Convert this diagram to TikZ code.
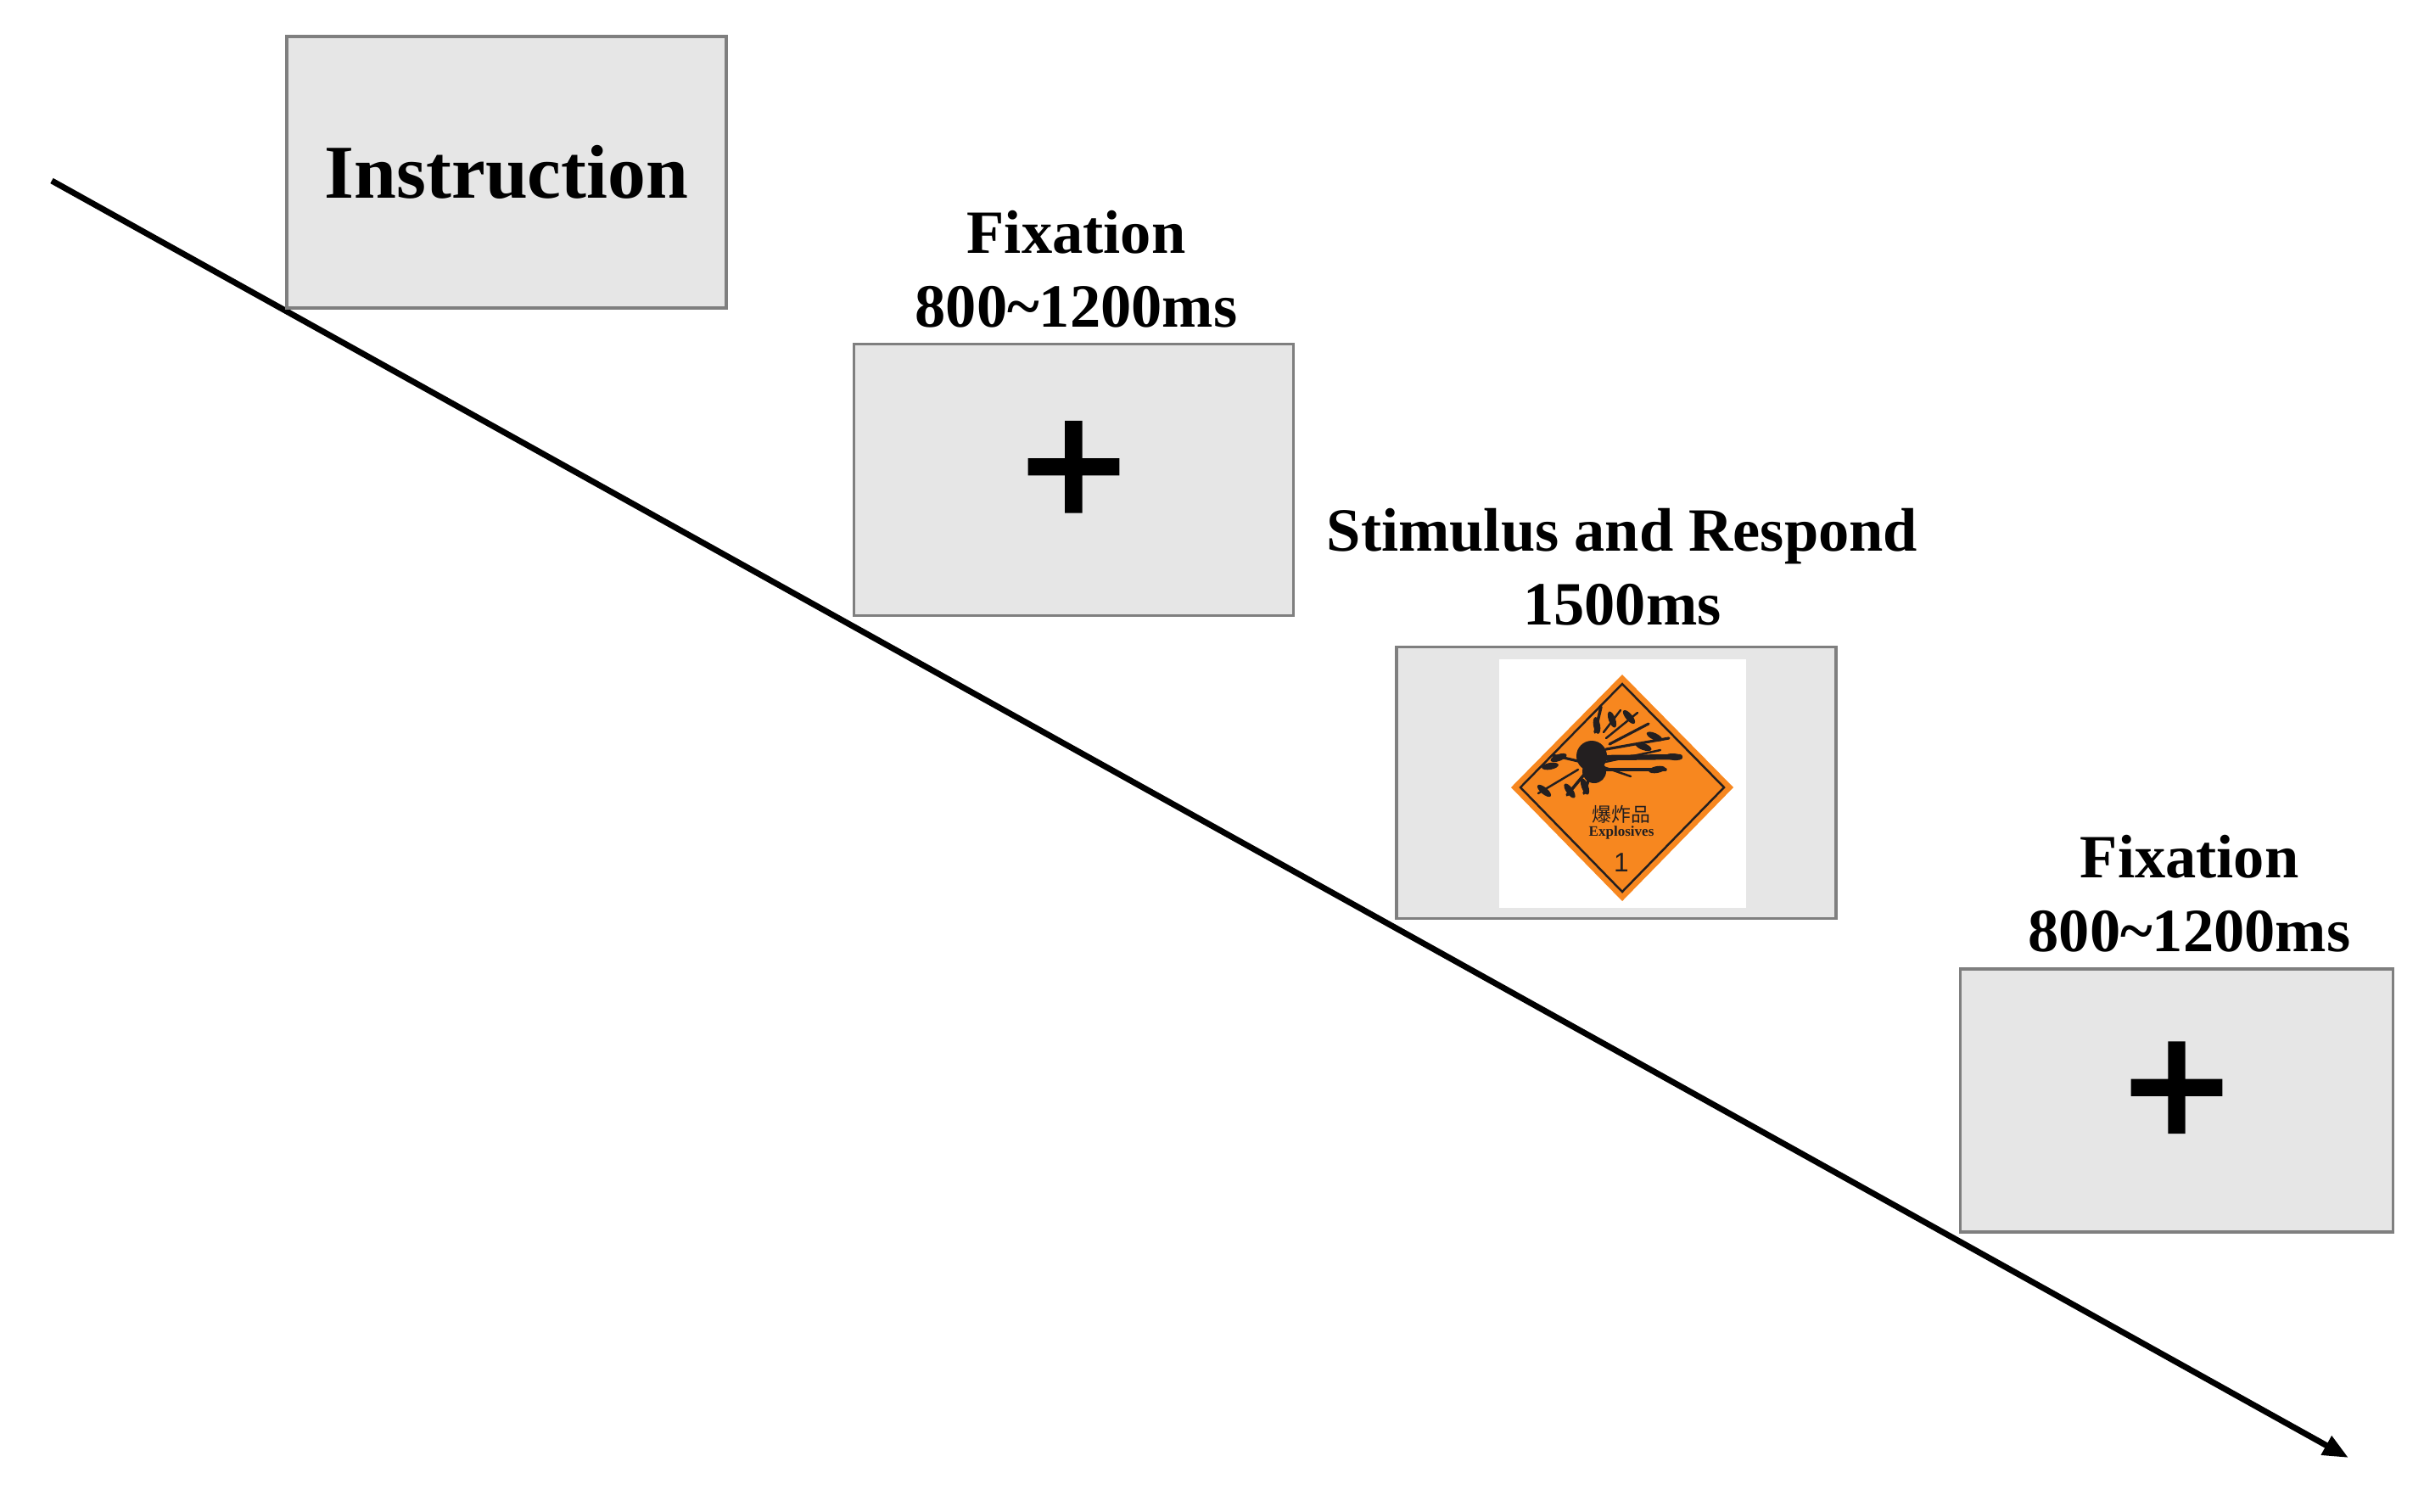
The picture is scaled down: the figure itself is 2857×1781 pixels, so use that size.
\documentclass[tikz,border=0pt]{standalone}
\usepackage{fontspec}
\setmainfont{Liberation Serif}
\newfontfamily\cjk{Noto Sans CJK SC}
\newfontfamily\plusfont[FakeBold=2.5]{Liberation Sans}
\newfontfamily\numfont{Liberation Sans}
\usetikzlibrary{positioning}
\usetikzlibrary{arrows.meta}
\definecolor{screengray}{HTML}{E6E6E6}
\definecolor{framegray}{HTML}{7F7F7F}
\definecolor{signorange}{HTML}{F7871F}
\definecolor{signink}{HTML}{231F20}

\begin{document}
\begin{tikzpicture}[x=0.01cm,y=-0.01cm,>={Triangle[length=0.3cm,width=0.24cm]},
  screen node/.style={rectangle,fill=screengray,draw=framegray,line width=1pt,minimum width=5.18cm,minimum height=3.2cm,inner sep=0pt},
  label node/.style={align=center,font=\fontsize{20.6}{24.8}\selectfont\bfseries,inner sep=0pt},
  cross/.style={font=\plusfont\fontsize{60}{60}\selectfont}]

	\useasboundingbox (0,0) rectangle (2857,1781);

	\coordinate (start) at (61,213);
	\coordinate (end) at (2768,1718);
	\draw[->,line width=2pt] (start) -- (end);

	\node[screen node,font=\fontsize{25.5}{30}\selectfont\bfseries] at (597,203) (instr) {Instruction};
	\node[screen node,cross] at (1265.5,565.5) (fix1) {\raisebox{0.12cm}{+}};
	\node[screen node] at (1905,922.5) (stim) {};
	\node[screen node,cross,minimum width=5.1cm,minimum height=3.1cm] at (2565.5,1297) (fix2) {\raisebox{0.12cm}{+}};

	\node[label node,above=0.17cm of fix1,xshift=0.03cm] (fix1 label) {Fixation\\800\textasciitilde1200ms};
	\node[label node,above=0.23cm of stim,xshift=0.07cm] (stim label) {Stimulus and Respond\\1500ms};
	\node[label node,above=0.17cm of fix2,xshift=0.15cm] (fix2 label) {Fixation\\800\textasciitilde1200ms};

	% warning sign
	\begin{scope}[shift={(1912,928)}]
		\fill[white] (-145,-151) rectangle (146,142);
		\fill[signorange] (0,-133) -- (131,0) -- (0,134) -- (-131,0) -- cycle;
		\draw[signink,line width=0.7pt] (0,-122) -- (120,0) -- (0,123) -- (-120,0) -- cycle;
		\fill[signink] (-36,-37) circle (18);
		\fill[signink] (-33,-19) circle (14);
		\foreach \ax/\ay/\bx/\by/\w in {-22/-35/68/-36/1.8,-19/-45/55/-58/0.9,-15/-51/31/-75/0.9,
			-19/-58/18/-88/0.7,-22/-65/-2/-91/0.7,-32/-65/-25/-95/1.0,
			-52/-31/-82/-38/0.9,-52/-21/-99/7/0.7,-45/-15/-65/9/1.0,
			-39/-11/-45/7/1.0,-22/-21/51/-21/1.0,-25/-25/10/-13/0.7,-20/-30/45/-44/0.7}
			\draw[signink,line width=\w pt,line cap=round] (\ax,\ay) -- (\bx,\by);
		\foreach \px/\py/\r in {8/-83/-50,-30/-73/-80,38/-60/-25,25/-48/-20,61/-36/-5,41/-21/10,
			-75/-35/20,-92/4/-40,-62/4/-55,-44/-1/-70,-85/-25/10,-12/-80/-70}
			\fill[signink,rotate around={\r:(\px,\py)}] (\px,\py) ellipse (10 and 4);
		\node[font=\cjk\fontsize{6.5}{6.5}\selectfont,text=signink,inner sep=0pt] at (-1,32) (cn) {爆炸品};
		\node[font=\fontsize{4.85}{5}\selectfont\bfseries,text=signink,inner sep=0pt] at (-1,53) (en) {Explosives};
		\node[font=\numfont\fontsize{9}{9}\selectfont,text=signink,inner sep=0pt] at (-1,89) (num) {1};
	\end{scope}

\end{tikzpicture}
\end{document}
